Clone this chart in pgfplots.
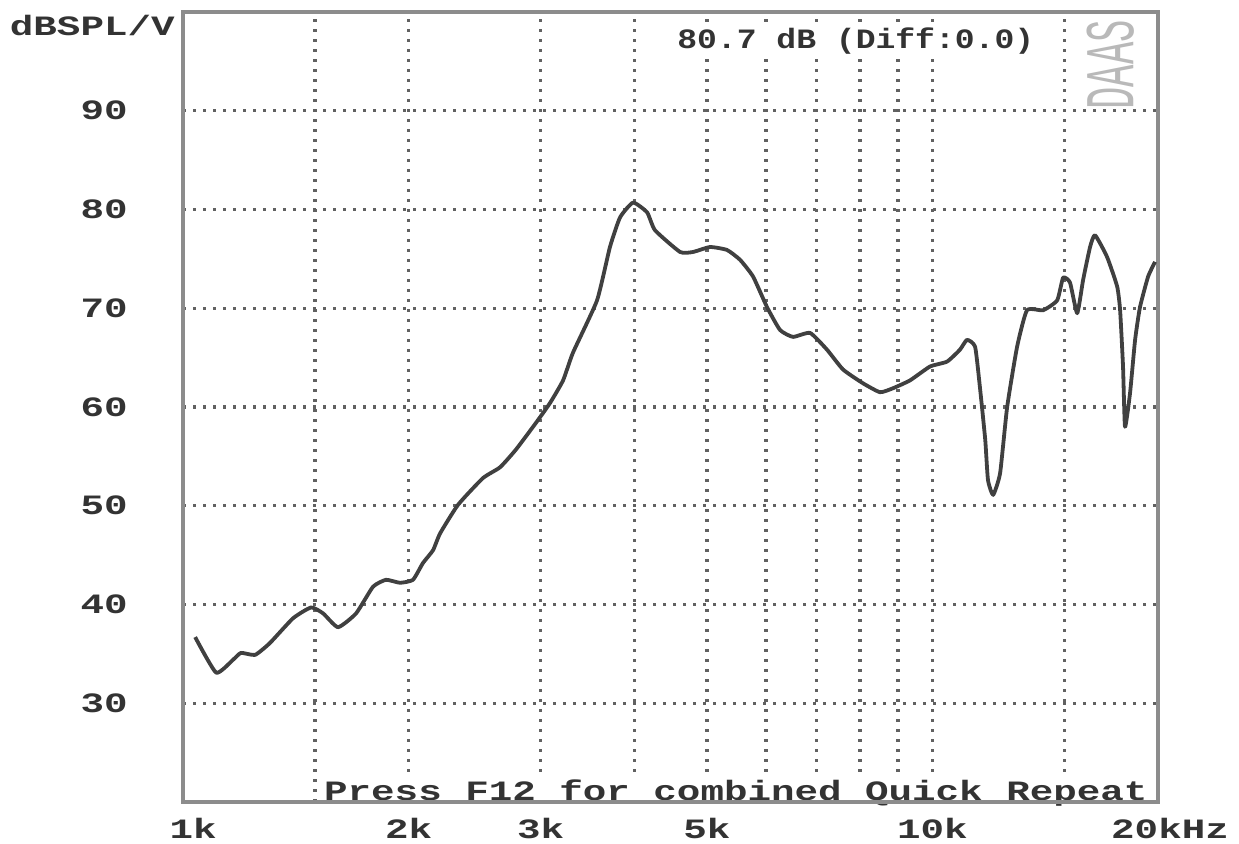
\documentclass[border=0pt]{standalone}
\usepackage{fontspec}
\usepackage{pgfplots}
\pgfplotsset{compat=1.18}
\newfontfamily\dos[FakeStretch=1.4]{Liberation Mono}
\newfontfamily\dosn[FakeStretch=1.18]{Liberation Mono}
\definecolor{txt}{gray}{0.2}
\definecolor{frame}{gray}{0.55}
\definecolor{gridc}{gray}{0.38}
\definecolor{curve}{gray}{0.25}

\begin{document}
\begin{tikzpicture}
\path[use as bounding box] (-91.5bp,-21bp) rectangle (528bp,401bp);
\begin{axis}[
    scale only axis,
    width=487.5bp, height=395bp,
    xmode=log,
    xmin=1000, xmax=20000,
    ymin=20, ymax=100,
    axis line style={draw=frame, line width=2bp},
    xtick={1000,2000,3000,5000,10000,20000},
    xticklabels={\hspace*{10bp}1k,2k,3k,5k,10k,\hspace*{12bp}20kHz},
    minor xtick={1500,2000,3000,4000,5000,6000,7000,8000,9000,10000,15000},
    ytick={30,40,50,60,70,80,90},
    yticklabels={30,40,50,60,70,80,90},
    major tick length=0pt, minor tick length=0pt,
    xmajorgrids=false, xminorgrids=true, ymajorgrids=true,
    grid style={gridc, line width=1.7bp, dash pattern=on 1.5bp off 3.5bp},
    tick label style={font={\dos\bfseries\fontsize{14bp}{14bp}\selectfont}, text=txt, inner sep=0pt},
    xticklabel style={anchor=north, yshift=-8bp},
    yticklabel style={anchor=east, xshift=-27.5bp},
    clip=false,
]
% measured response, Hz vs dB
\addplot[curve, line width=1.9bp, line join=round, smooth, tension=0.3] coordinates {
(1038,36.7)(1107,33.1)(1166,34.4)(1195,35.1)(1248,34.9)(1306,36.1)(1402,38.6)
(1482,39.7)(1538,39.1)(1610,37.7)(1702,39.1)(1793,41.8)(1866,42.5)(1948,42.2)
(2027,42.5)(2090,44.2)(2156,45.5)(2203,47.2)(2328,50.1)(2513,52.8)(2649,53.9)
(2782,55.7)(2958,58.4)(3088,60.4)(3215,62.7)(3314,65.5)(3568,70.8)(3713,76.2)
(3830,79.2)(3987,80.7)(4162,79.7)(4264,77.9)(4605,75.7)(4792,75.7)(5050,76.2)
(5320,75.9)(5538,74.9)(5764,73.2)(6017,70.1)(6261,67.8)(6516,67.1)(6866,67.5)
(7234,65.8)(7598,63.8)(8079,62.4)(8513,61.5)(8858,61.9)(9335,62.7)(9926,64.1)
(10460,64.6)(10880,65.8)(11120,66.8)(11400,66.1)(11570,62.0)(11760,56.7)
(11860,52.6)(12050,51.1)(12310,53.3)(12580,60.0)(12970,66.1)(13370,69.8)
(14050,69.8)(14670,70.8)(14940,73.1)(15260,72.6)(15600,69.5)(15890,72.9)
(16230,76.2)(16480,77.4)(17100,75.2)(17640,72.2)(17800,69.8)(17960,64.1)
(18070,58.0)(18350,61.4)(18640,66.8)(18920,70.1)(19400,73.2)(19820,74.7)
};
\node[fill=white, inner sep=1bp, text=txt, font={\dosn\bfseries\fontsize{14bp}{14bp}\selectfont}]
  at (rel axis cs:0.69,0.963) {80.7 dB (Diff:0.0)};
\node[rotate=90, text=gray!55, inner sep=0pt, font={\dos\fontsize{14bp}{14bp}\selectfont}]
  at (rel axis cs:0.951,0.933) {\scalebox{0.95}[2.5]{DAAS}};
\node[fill=white, inner sep=0.5bp, text=txt, font={\dos\bfseries\fontsize{14bp}{14bp}\selectfont}]
  at (rel axis cs:0.567,0.0114) {Press F12 for combined Quick Repeat};
\draw[frame, line width=2bp] (rel axis cs:0,0) -- (rel axis cs:1,0);
\node[anchor=east, inner sep=0pt, xshift=-4bp, yshift=-6.5bp, text=txt, font={\dos\bfseries\fontsize{14bp}{14bp}\selectfont}]
  at (rel axis cs:0,1) {dBSPL/V};
\end{axis}
\end{tikzpicture}
\end{document}
